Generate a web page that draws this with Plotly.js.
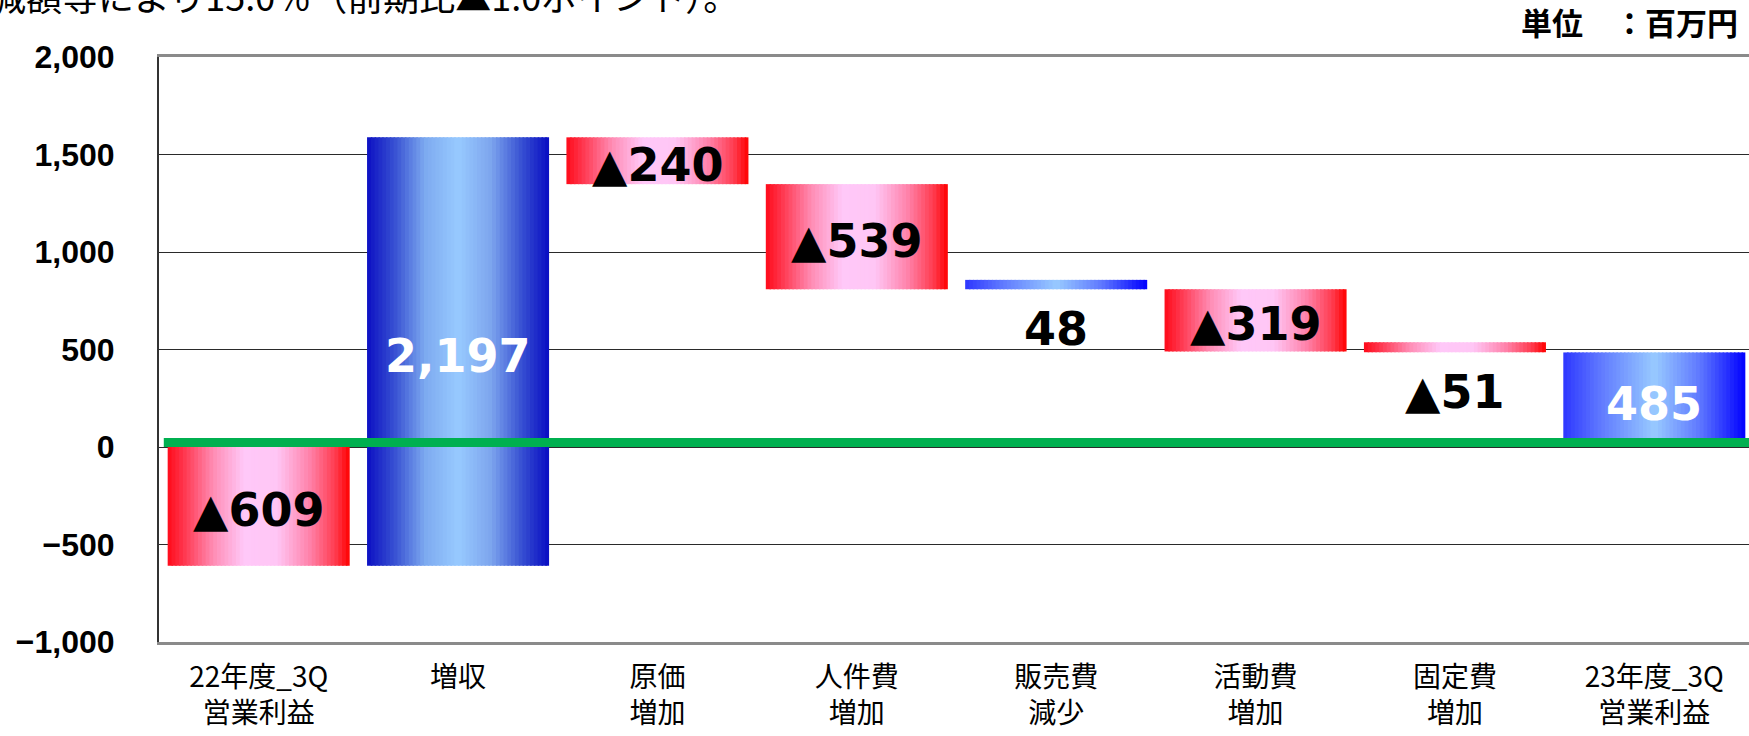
<!DOCTYPE html>
<html><head><meta charset="utf-8">
<script src="https://cdn.plot.ly/plotly-3.0.1.min.js"></script>
<style>html,body{margin:0;padding:0;overflow:hidden;background:#fff}</style>
</head><body><div id="chart" style="width:1754px;height:736px"></div>
<script>
// ---- data ----
const categories = ['22年度_3Q<br>営業利益', '増収', '原価<br>増加', '人件費<br>増加', '販売費<br>減少', '活動費<br>増加', '固定費<br>増加', '23年度_3Q<br>営業利益'];
const barBase  = [0, -609, 1588, 1348, 809, 809, 537, 0];
const barValue = [-609, 2197, -240, -539, 48, -319, -51, 485];
const yTickValues = [-1000, -500, 0, 500, 1000, 1500, 2000];
const headerText = '減額等により15.0％（前期比▲1.0ポイント）。';
const unitText = '単位　：百万円';

// ---- style ----
const barStyle = ['red', 'navy', 'red', 'red', 'blue', 'red', 'red', 'blue'];
const gradients = {
  red:  [[0,[255,10,25]],[0.1,[255,60,85]],[0.25,[255,140,180]],[0.42,[255,200,248]],[0.6,[255,198,245]],[0.78,[255,130,170]],[0.92,[255,60,80]],[1,[255,0,0]]],
  navy: [[0,[12,15,195]],[0.15,[55,80,210]],[0.32,[125,170,240]],[0.5,[152,202,255]],[0.68,[125,165,238]],[0.85,[55,80,210]],[1,[8,12,195]]],
  blue: [[0,[45,55,255]],[0.2,[95,120,255]],[0.5,[152,202,255]],[0.75,[95,120,255]],[1,[0,0,255]]]
};
function colorAt(stops, t) {
  for (let k = 1; k < stops.length; k++) {
    if (t <= stops[k][0]) {
      const [t0, c0] = stops[k-1], [t1, c1] = stops[k];
      const f = (t - t0) / (t1 - t0);
      const c = c0.map((v, j) => Math.round(v + (c1[j] - v) * f));
      return `rgb(${c[0]},${c[1]},${c[2]})`;
    }
  }
  const c = stops[stops.length-1][1];
  return `rgb(${c[0]},${c[1]},${c[2]})`;
}

const BAR_W = 0.913, N = 48;
const traces = [];
for (let i = 0; i < N; i++) {
  const t = (i + 0.5) / N;
  const w = BAR_W / N;
  traces.push({
    type: 'bar', x: categories, y: barValue, base: barBase,
    offset: -BAR_W / 2 + i * w,
    width: i === N - 1 ? w : w * 1.4,
    marker: { color: barStyle.map(s => colorAt(gradients[s], t)), line: { width: 0 } },
    hoverinfo: 'skip', showlegend: false
  });
}

const annotations = barValue.map((v, i) => {
  const small = Math.abs(v) < 100;
  const txt = v < 0 ? '▲' + Math.abs(v).toLocaleString('en-US') : v.toLocaleString('en-US');
  const white = v > 0 && !small;
  return {
    x: categories[i], y: small ? Math.min(barBase[i], barBase[i] + v) : barBase[i] + v / 2,
    xref: 'x', yref: 'y', text: txt, showarrow: false,
    font: { family: 'DejaVu Sans', size: 46, color: white ? '#ffffff' : '#000000', weight: 700 },
    xanchor: 'center', yanchor: 'middle', yshift: small ? -40 : -4
  };
});
annotations.push({
  xref: 'paper', yref: 'paper', x: -0.107, y: 1.106, xanchor: 'left', yanchor: 'middle',
  text: headerText, showarrow: false,
  font: { family: 'Noto Sans CJK JP', size: 36, color: '#000' }
});
annotations.push({
  xref: 'paper', yref: 'paper', x: 0.991, y: 1.06, xanchor: 'right', yanchor: 'middle',
  text: unitText, showarrow: false,
  font: { family: 'Noto Sans CJK JP', size: 31, color: '#000', weight: 700 }
});

const layout = {
  width: 1754, height: 736,
  margin: { l: 159, r: 0, t: 57, b: 94 },
  paper_bgcolor: '#ffffff', plot_bgcolor: '#ffffff',
  barmode: 'overlay',
  showlegend: false,
  xaxis: {
    type: 'category', showgrid: false, zeroline: false,
    showline: true, linecolor: '#8a8a8a', linewidth: 3, mirror: true,
    ticks: '', ticklabelstandoff: 8,
    tickfont: { family: 'Noto Sans CJK JP', size: 28, color: '#000' }
  },
  yaxis: {
    range: [-1000, 2000], tickvals: yTickValues, tickformat: ',d',
    showgrid: true, gridcolor: '#2a2a2a', gridwidth: 1, zeroline: false,
    showline: true, linecolor: '#333333', linewidth: 2,
    ticks: '', ticklabelstandoff: 36,
    tickfont: { family: 'Liberation Sans', size: 32, color: '#000', weight: 700 }
  },
  shapes: [{
    type: 'rect', layer: 'above', xref: 'paper', x0: 0.003, x1: 1,
    yref: 'y', ysizemode: 'pixel', yanchor: 0, y0: 0, y1: 9,
    fillcolor: '#00b050', line: { width: 0 }
  }],
  annotations: annotations
};

Plotly.newPlot('chart', traces, layout, { displayModeBar: false, staticPlot: true });
</script>
</body></html>
